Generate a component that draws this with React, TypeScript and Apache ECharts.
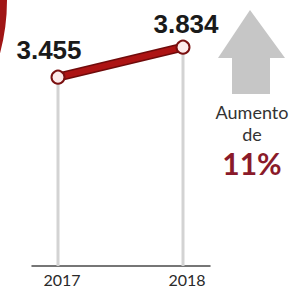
import React, { useEffect, useRef } from "react";
import * as echarts from "echarts";

const years = [2017, 2018];
const values = [3.455, 3.834];
const valueLabels = ["3.455", "3.834"];
const increaseTitle = ["Aumento", "de"];
const increaseValue = "11%";

export default function App() {
  const ref = useRef<HTMLDivElement>(null);
  useEffect(() => {
    if (!ref.current) return;
    const chart = echarts.init(ref.current, null, { renderer: "svg" });
    const labelOffsets = [
      [-9, -5],
      [3, -1],
    ];
    const points = years.map((y, i) => [y, values[i]]);
    chart.setOption({
      animation: false,
      backgroundColor: "#ffffff",
      grid: { left: 32, right: 85, top: 34, bottom: 25 },
      xAxis: {
        type: "value",
        min: 2016.792,
        max: 2018.216,
        axisLine: { show: true, lineStyle: { color: "#4a4a4a", width: 1.5 } },
        axisTick: { show: false },
        splitLine: { show: false },
        axisLabel: {
          customValues: years,
          formatter: (v: number) => (Math.abs(v - Math.round(v)) < 1e-6 ? String(Math.round(v)) : ""),
          color: "#2a2a2a",
          fontFamily: "Lato",
          fontSize: 16,
          margin: 5,
          padding: [0, 0, 0, 8],
        },
      },
      yAxis: {
        type: "value",
        min: 1.07,
        max: 4.0,
        show: false,
        splitLine: { show: false },
      },
      series: [
        {
          type: "bar",
          data: points,
          barWidth: 3,
          itemStyle: { color: "#d3d3d3" },
          silent: true,
          z: 1,
        },
        {
          type: "line",
          data: points,
          symbol: "none",
          lineStyle: { color: "#6f0b0b", width: 9 },
          z: 2,
        },
        {
          type: "line",
          data: points.map((p, i) => ({
            value: p,
            label: {
              show: true,
              position: "top",
              distance: 2,
              offset: labelOffsets[i],
              formatter: () => valueLabels[i],
            },
          })),
          symbol: "circle",
          symbolSize: 13,
          itemStyle: { color: "#fdeaea", borderColor: "#7a1010", borderWidth: 2 },
          lineStyle: { color: "#ad1414", width: 6 },
          label: {
            color: "#1a1a1a",
            fontFamily: "Liberation Sans",
            fontWeight: "bold",
            fontSize: 26,
            lineHeight: 26,
          },
          z: 3,
        },
      ],
      graphic: [
        {
          type: "arc",
          shape: { cx: -200, cy: 0, r: 203, startAngle: -Math.PI / 2, endAngle: Math.PI / 2 },
          style: { stroke: "#a01515", lineWidth: 8, fill: "none" },
        },
        {
          type: "polygon",
          shape: {
            points: [
              [250, 10],
              [285, 58],
              [270, 58],
              [270, 94],
              [232, 94],
              [232, 58],
              [218, 58],
            ],
          },
          style: { fill: "#c6c6c6" },
        },
        {
          type: "text",
          x: 252,
          y: 112,
          style: {
            text: increaseTitle[0],
            fill: "#333333",
            font: "18px Lato",
            textAlign: "center",
            textVerticalAlign: "middle",
          },
        },
        {
          type: "text",
          x: 252,
          y: 134,
          style: {
            text: increaseTitle[1],
            fill: "#333333",
            font: "18px Lato",
            textAlign: "center",
            textVerticalAlign: "middle",
          },
        },
        {
          type: "text",
          x: 252,
          y: 163,
          style: {
            text: increaseValue,
            fill: "#8a1a2a",
            font: "bold 30px Lato",
            textAlign: "center",
            textVerticalAlign: "middle",
          },
        },
      ],
    });
    return () => chart.dispose();
  }, []);
  return (
    <div
      ref={ref}
      style={{ position: "absolute", left: 0, top: 0, width: 295, height: 291 }}
    />
  );
}
